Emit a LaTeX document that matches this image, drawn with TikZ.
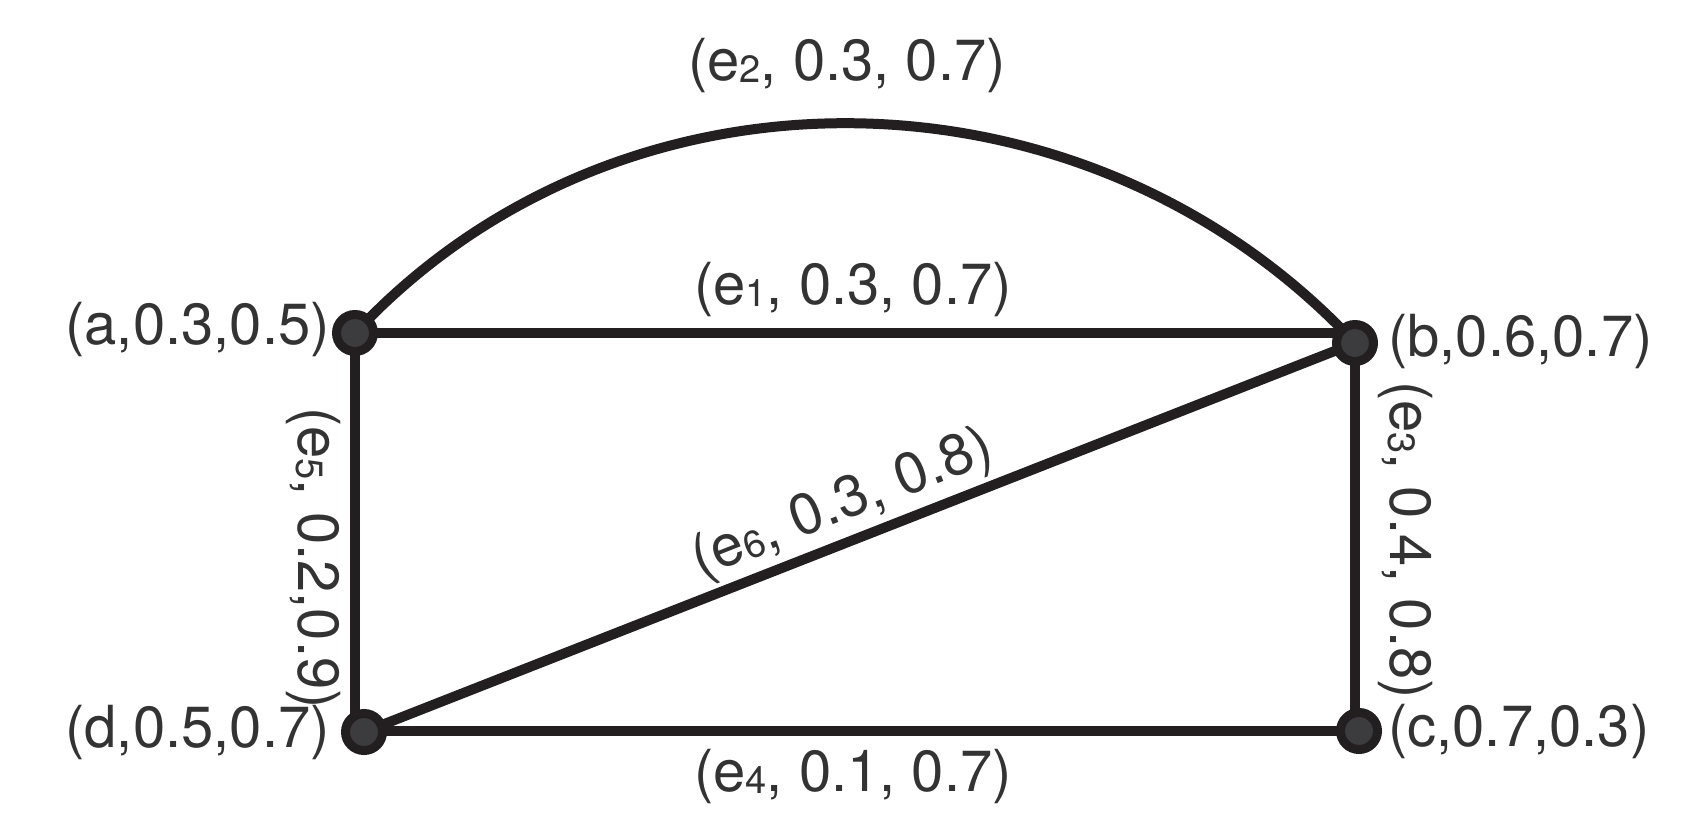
\documentclass[tikz,border=0pt]{standalone}
\usepackage{fontspec}
\setmainfont{TeX Gyre Heros}
\usetikzlibrary{backgrounds}
\definecolor{edgecol}{HTML}{231F20}
\definecolor{fillcol}{HTML}{3C3C3E}
\definecolor{textcol}{HTML}{333333}
\newcommand{\sbx}[1]{\raisebox{-2pt}{\fontsize{38}{38}\selectfont #1}}
\begin{document}
\begin{tikzpicture}[x=1pt,y=-1pt,
  vert/.style={circle,draw=edgecol,fill=fillcol,line width=9pt,minimum size=37pt,inner sep=0pt},
  edge/.style={draw=edgecol,line width=10pt},
  lbl/.style={text=textcol,font=\fontsize{58}{68}\selectfont,inner sep=0pt}]
\useasboundingbox (0,0) rectangle (1694,824);
\node[vert] (a) at (355,333) {};
\node[vert] (b) at (1355,343) {};
\node[vert] (c) at (1359,731) {};
\node[vert] (d) at (364,732) {};
\begin{scope}[on background layer]
\draw[edge] (a.center) -- (a.center -| b.center);
\draw[edge] (a.center) to[out=47,in=133] (b.center);
\draw[edge] (b.center) -- (b.center |- c.center);
\draw[edge] (c.center) -- (c.center -| a.center);
\draw[edge] (a.center) -- (a.center |- d.center);
\draw[edge] (d.center) -- (b.center);
\end{scope}
\node[lbl,anchor=east] (la) at (330,330) {(a,0.3,0.5)};
\node[lbl,anchor=west] (lb) at (1388,342) {(b,0.6,0.7)};
\node[lbl,anchor=west] (lc) at (1388,731) {(c,0.7,0.3)};
\node[lbl,anchor=east] (ld) at (330,732) {(d,0.5,0.7)};
\node[lbl] (l2) at (847,66) {(e\sbx{2}, 0.3, 0.7)};
\node[lbl] (l1) at (853,290) {(e\sbx{1}, 0.3, 0.7)};
\node[lbl] (l4) at (853,776) {(e\sbx{4}, 0.1, 0.7)};
\node[lbl,rotate=-90] (l5) at (313,558) {(e\sbx{5}, 0.2,0.9)};
\node[lbl,rotate=-90] (l3) at (1405,540) {(e\sbx{3}, 0.4, 0.8)};
\node[lbl,rotate=21.5] (l6) at (843,505) {(e\sbx{6}, 0.3, 0.8)};
\end{tikzpicture}
\end{document}
